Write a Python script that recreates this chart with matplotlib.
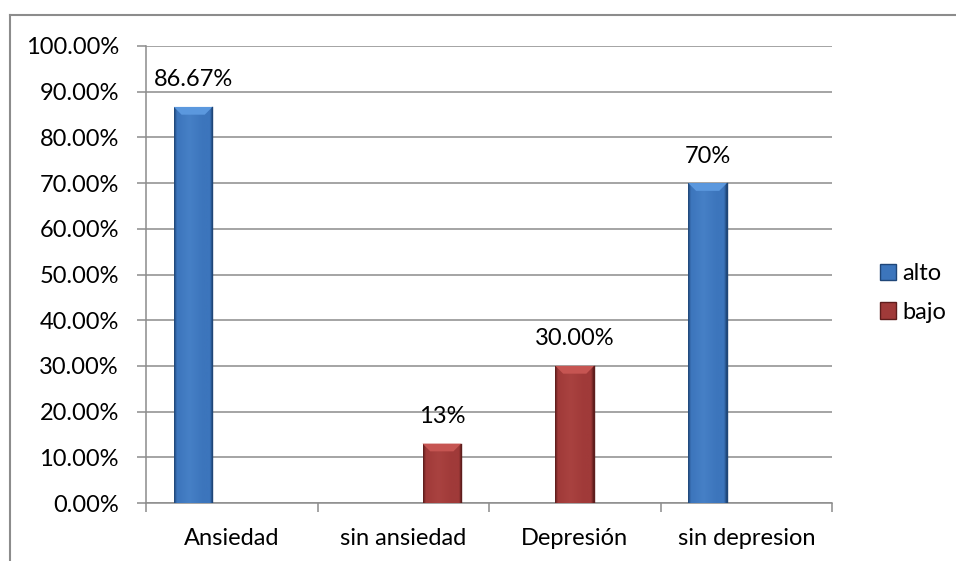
import numpy as np
import matplotlib.pyplot as plt
from matplotlib.lines import Line2D
from matplotlib.patches import Polygon, Patch
from matplotlib.colors import LinearSegmentedColormap

plt.rcParams['font.family'] = ['Lato', 'DejaVu Sans']

categorias = ["Ansiedad", "sin ansiedad", "Depresión", "sin depresion"]
alto = [0.8667, 0, 0, 0.70]
bajo = [0, 0.13, 0.30, 0]
etiquetas_alto = ["86.67%", "", "", "70%"]
etiquetas_bajo = ["", "13%", "30.00%", ""]
yticks = np.arange(0, 1.01, 0.1)

# where each bar sits inside its category (-1 left, 0 middle, +1 right)
slot_alto = [-1, 0, 0, -1]
slot_bajo = [1, 1, 0, 1]

azul = {"base": "#3c75bc", "dark": "#1f4678", "light": "#5b98de", "mid": "#4680c6"}
rojo = {"base": "#a03a39", "dark": "#5e1d1c", "light": "#c65552", "mid": "#a94240"}

W = 0.225
fig = plt.figure(figsize=(9.56, 5.61), dpi=100)
ax = fig.add_axes([146/956, 1 - 503/561, (832 - 146)/956, (503 - 46)/561])


def draw_bar(xc, h, col, label):
    if h <= 0:
        return
    x0, x1 = xc - W/2, xc + W/2
    rect = ax.bar(xc, h, width=W, color=col["base"], edgecolor=col["dark"],
                  linewidth=0.6, zorder=3)[0]
    cmap = LinearSegmentedColormap.from_list(
        "g", [(0, col["dark"]), (0.07, col["base"]), (0.4, col["mid"]),
              (0.75, col["base"]), (0.93, col["base"]), (1, col["dark"])])
    grad = np.linspace(0, 1, 64).reshape(1, -1)
    im = ax.imshow(grad, cmap=cmap, extent=[x0, x1, 0, h], aspect="auto", zorder=3.5)
    im.set_clip_path(rect)
    dx, dy = 0.045, 0.017
    bev = Polygon([[x0, h], [x1, h], [x1 - dx, h - dy], [x0 + dx, h - dy]],
                  closed=True, facecolor=col["light"], edgecolor="none", zorder=4)
    ax.add_patch(bev)
    ax.plot([x1, x1], [0, h], color=col["dark"], lw=1.0, zorder=5)
    ax.annotate(label, (xc, h), xytext=(0, 19.5), textcoords="offset points",
                ha="center", va="center", fontsize=17, color="black", zorder=6)


for i in range(len(categorias)):
    draw_bar(i + slot_alto[i] * W, alto[i], azul, etiquetas_alto[i])
    draw_bar(i + slot_bajo[i] * W, bajo[i], rojo, etiquetas_bajo[i])

ax.set_ylim(0, 1.0)
ax.set_xlim(-0.5, 3.5)

ax.set_yticks(yticks)
ax.set_yticklabels(["{:.2f}%".format(v * 100) for v in yticks])
ax.set_xticks(np.arange(-0.5, 4, 1))
ax.set_xticklabels([])
ax.set_xticks(np.arange(len(categorias)), minor=True)
ax.set_xticklabels(categorias, minor=True)
ax.tick_params(axis="x", which="minor", length=0, pad=18, labelsize=17)
ax.tick_params(axis="x", which="major", length=6.5, width=1.1, color="#8c8c8c", direction="out")
ax.tick_params(axis="y", length=6.5, width=1.1, color="#8c8c8c", pad=13, labelsize=17)

ax.yaxis.grid(True, color="#8c8c8c", linewidth=1.1, zorder=0)
ax.set_axisbelow(True)
for s in ["top", "right"]:
    ax.spines[s].set_visible(False)
for s in ["left", "bottom"]:
    ax.spines[s].set_color("#8c8c8c")
    ax.spines[s].set_linewidth(1.1)

handles = [Patch(facecolor=azul["base"], edgecolor=azul["dark"], label="alto"),
           Patch(facecolor=rojo["base"], edgecolor=rojo["dark"], label="bajo")]
fig.legend(handles=handles, loc="center left", bbox_to_anchor=(868/956, 1 - 293/561),
           frameon=False, fontsize=17, handlelength=0.7, handleheight=0.7,
           handletextpad=0.25, labelspacing=0.75, borderpad=0)

# outer chart frame
fig.add_artist(Line2D([10/956, 1], [1 - 15/561, 1 - 15/561], color="#8c8c8c", lw=1.5))
fig.add_artist(Line2D([10/956, 10/956], [0, 1 - 15/561], color="#8c8c8c", lw=1.5))

fig.savefig("out.png", dpi=100)
